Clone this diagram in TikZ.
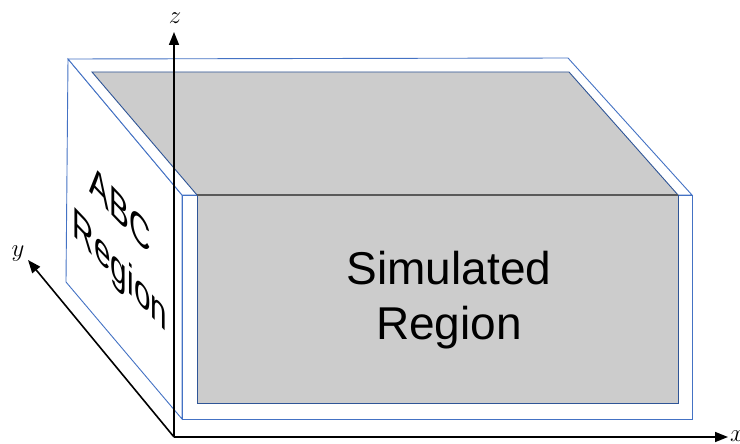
\documentclass[tikz,border=0pt]{standalone}
\usepackage{fontspec}
\setmainfont{Liberation Sans}
\usetikzlibrary{arrows.meta}
\definecolor{outerblue}{HTML}{4472C4}
\definecolor{innerblue}{HTML}{2F5597}
\definecolor{simgray}{HTML}{CCCCCC}
\definecolor{edgegray}{HTML}{595959}
\begin{document}
\begin{tikzpicture}[x=1pt,y=-1pt,
  outerface/.style={draw=outerblue, fill=white, line width=0.9pt, line join=miter},
  innerface/.style={draw=innerblue, fill=simgray, line width=0.9pt, line join=miter},
  topedge/.style={draw=edgegray, line width=1.4pt},
  axis/.style={draw=black, line width=1.6pt, -{Triangle[length=13pt,width=10pt]}},
  axislabel/.style={font=\fontsize{24}{24}\selectfont, inner sep=0pt},
  regiontext/.style={align=center, inner sep=0pt}]
\useasboundingbox (0,0) rectangle (740,444);
% ABC region (outer box)
\draw[outerface] (68,59) -- (182,195) -- (182,419) -- (66,282) -- cycle;
\draw[outerface] (68,59) -- (568,58) -- (692,195) -- (182,195) -- cycle;
\draw[outerface] (182,195) rectangle (692,419);
% simulated region (inner box)
\draw[innerface] (92,72) -- (569,72) -- (678,195) -- (197,195) -- cycle;
\draw[innerface] (197,195) rectangle (678,403);
\draw[topedge] (197,195) -- (678,195);
% texts
\node[regiontext, font=\fontsize{46}{55}\selectfont] (sim) at (449,300) {Simulated\\Region};
\begin{scope}[shift={(120,243)}, cm={0.691,-0.723,0,1,(0,0)}]
  \node[regiontext, transform shape, font=\fontsize{43}{60}\selectfont] (abc) at (0,0) {ABC\\Region};
\end{scope}
% axes
\coordinate (O) at (174,437);
\coordinate (xe) at (728,437);
\coordinate (ye) at (28,260);
\coordinate (ze) at (174,32);
\draw[axis] (O) -- (xe);
\draw[axis] (O) -- (ye);
\draw[axis] (O) -- (ze);
\node[axislabel] (xl) at (737,436) {$x$};
\node[axislabel] (yl) at (18,254) {$y$};
\node[axislabel] (zl) at (175,18) {$z$};
\end{tikzpicture}
\end{document}
